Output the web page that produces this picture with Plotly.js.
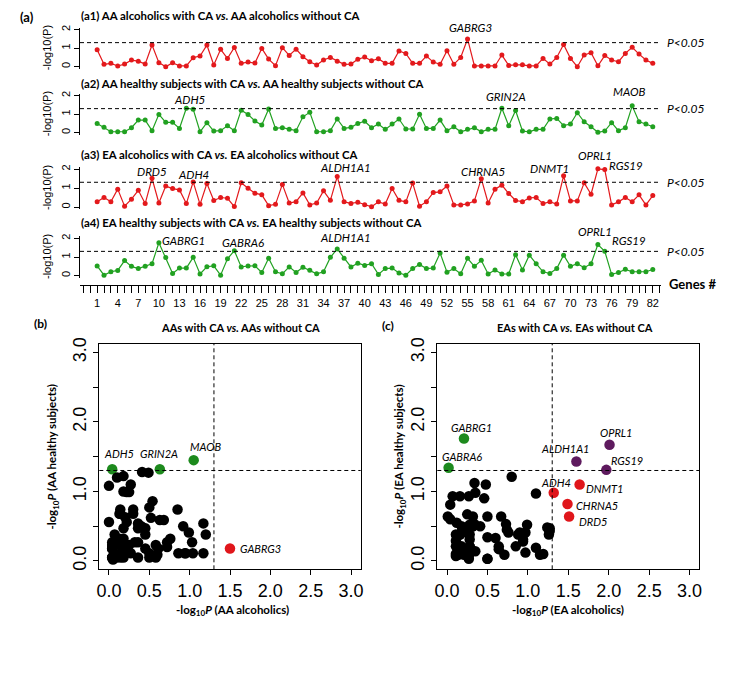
<!DOCTYPE html>
<html>
<head>
<meta charset="utf-8">
<script src="https://cdn.plot.ly/plotly-3.0.1.min.js"></script>
<style>
  html, body { margin: 0; padding: 0; background: #fff; }
  #chart { width: 730px; height: 678px; }
</style>
</head>
<body>
<div id="chart"></div>
<script>
// -log10(P) per gene, genes 1..82
var genes = Array.from({length: 82}, function (_, i) { return i + 1; });

var aaAlc = [0.92,0.13,0.18,0.04,0.14,0.36,0.30,0.14,1.17,0.22,
  0.00,0.22,0.04,0.04,0.49,0.58,1.17,0.09,0.94,0.45,
  1.04,0.18,0.25,0.20,0.99,0.41,0.05,1.03,0.61,0.95,
  0.54,0.27,0.09,0.36,0.50,0.30,0.13,0.14,0.40,0.52,
  0.32,0.43,0.18,0.18,0.85,0.72,0.18,0.18,0.58,0.25,
  0.13,0.86,0.13,0.50,1.50,0.04,0.04,0.04,0.04,0.63,
  0.07,0.10,0.10,0.04,0.04,0.45,0.14,0.50,1.20,0.45,
  0.00,0.63,0.76,0.05,0.60,0.36,0.27,0.72,1.05,0.68,
  0.36,0.18];

var aaHealthy = [0.50,0.29,0.05,0.05,0.05,0.27,0.68,0.68,0.11,0.99,
  0.56,0.56,0.23,1.32,1.27,0.05,0.54,0.09,0.11,0.38,
  0.11,1.22,0.99,0.63,0.41,1.28,0.23,0.27,0.18,0.11,
  0.86,1.10,0.05,0.05,0.11,0.74,0.23,0.29,0.50,0.62,
  0.27,0.47,0.18,0.47,0.74,0.20,0.20,1.00,0.23,0.23,
  0.68,0.11,0.32,0.05,0.18,0.27,0.05,0.18,0.18,1.32,
  0.38,1.20,0.09,0.05,0.18,0.18,0.74,0.77,0.38,0.47,
  1.08,0.59,0.32,0.02,0.09,0.54,0.11,0.27,1.45,0.59,
  0.47,0.32];

var eaAlc = [0.28,0.50,0.28,0.94,0.04,0.41,0.88,0.18,1.51,0.21,
  1.10,0.97,0.90,0.18,1.32,0.14,1.24,0.34,0.50,0.46,
  0.02,1.27,0.99,0.73,0.64,0.07,0.14,1.19,0.21,0.28,
  0.74,0.11,0.21,0.85,0.35,1.60,0.27,0.19,0.25,0.12,
  0.01,0.27,0.16,0.97,0.35,0.27,1.26,0.04,0.28,0.76,
  0.80,1.10,0.11,0.11,0.16,0.32,1.49,0.21,0.94,1.15,
  0.71,0.34,0.28,0.48,0.50,0.18,0.27,0.16,1.64,0.32,
  0.32,1.27,0.67,2.01,1.97,0.11,0.27,0.50,0.28,0.64,
  0.11,0.60];

var eaHealthy = [0.52,0.03,0.21,0.28,0.81,0.50,0.38,0.50,0.64,1.76,
  0.97,0.12,0.41,0.41,0.98,0.09,0.48,0.53,0.03,0.90,
  1.34,0.47,0.52,0.53,0.17,0.93,0.21,0.10,0.47,0.17,
  0.45,0.29,0.10,0.21,0.98,1.43,0.93,0.47,0.67,0.55,
  0.64,0.07,0.38,0.41,0.14,0.03,0.38,0.60,0.38,0.41,
  1.21,0.19,0.38,0.10,0.93,0.50,0.82,0.09,0.31,0.09,
  0.09,1.12,0.31,1.10,0.64,0.21,0.12,0.38,1.10,0.50,
  0.64,0.43,0.64,1.67,1.31,0.07,0.17,0.34,0.21,0.21,
  0.21,0.33];

var panelTitles = [
  '(a1) AA alcoholics with CA <i>vs.</i> AA alcoholics without CA',
  '(a2) AA healthy subjects with CA <i>vs.</i> AA healthy subjects without CA',
  '(a3) EA alcoholics with CA <i>vs.</i> EA alcoholics without CA',
  '(a4) EA healthy subjects with CA <i>vs.</i> EA healthy subjects without CA'
];

var cutoff = -Math.log10(0.05);

var W = 730, H = 678;
function px(x) { return x / W; }
function py(y) { return 1 - y / H; }

var RED = '#e3191c', GREEN = '#21a121';
var DOT_GREEN = '#1d8a1d', DOT_RED = '#e0161b', PURPLE = '#5e1a5e';
var lato = 'Lato, sans-serif';
var DASH = '4px,3px';

// text placed in page pixels
function note(x, y, text, font, extra) {
  return Object.assign({
    xref: 'paper', yref: 'paper', x: px(x), y: py(y), text: text,
    xanchor: 'center', yanchor: 'middle', showarrow: false, font: font
  }, extra || {});
}

// line panels: pixel of the 0 tick and pixels per unit
var panels = [
  {vals: aaAlc, color: RED, zero: 66.7, unit: 18.5, title: 15},
  {vals: aaHealthy, color: GREEN, zero: 132.7, unit: 18.5, title: 83},
  {vals: eaAlc, color: RED, zero: 207, unit: 19, title: 154},
  {vals: eaHealthy, color: GREEN, zero: 275.7, unit: 18.7, title: 222}
];

var data = [];
var layout = {
  width: W, height: H,
  margin: {l: 0, r: 0, t: 0, b: 0},
  paper_bgcolor: '#fff', plot_bgcolor: '#fff',
  showlegend: false,
  font: {family: 'Liberation Sans, Arial, sans-serif', color: '#000'},
  annotations: [], shapes: []
};

layout.xaxis = {
  domain: [px(80), px(661)], range: [-1.5, 83.2],
  anchor: 'free', position: py(285),
  tickmode: 'linear', tick0: 1, dtick: 3,
  ticks: 'outside', ticklen: 7, tickcolor: '#000', tickwidth: 1,
  minor: {dtick: 1, tick0: 1, ticks: 'outside', ticklen: 7, tickcolor: '#000'},
  showline: true, linecolor: '#000', linewidth: 1.3,
  showgrid: false, zeroline: false,
  tickfont: {size: 11, family: 'Liberation Sans, Arial'}
};

panels.forEach(function (p, i) {
  var yn = i === 0 ? 'yaxis' : 'yaxis' + (i + 1);
  var yr = i === 0 ? 'y' : 'y' + (i + 1);
  layout[yn] = {
    domain: [py(p.zero + 0.1 * p.unit), py(p.zero - 2.1 * p.unit)],
    range: [-0.1, 2.1], anchor: 'x',
    tickvals: [0, 1, 2], ticks: 'outside', ticklen: 5, tickcolor: '#000',
    tickangle: -90, showline: true, linecolor: '#000', linewidth: 1,
    showgrid: false, zeroline: false,
    tickfont: {size: 11, family: 'Liberation Sans, Arial'}
  };
  data.push({
    x: genes, y: p.vals, xaxis: 'x', yaxis: yr,
    type: 'scatter', mode: 'lines+markers', cliponaxis: false,
    line: {color: p.color, width: 1.2},
    marker: {color: p.color, size: 5}
  });
  layout.shapes.push({
    type: 'line', xref: 'x domain', yref: yr, x0: 0, x1: 1, y0: cutoff, y1: cutoff,
    line: {color: '#000', width: 1, dash: DASH}
  });
  layout.annotations.push({
    xref: 'paper', yref: yr, x: px(685), y: cutoff, text: '<i>P<0.05</i>',
    xanchor: 'center', yanchor: 'middle',
    showarrow: false, font: {family: lato, size: 12}
  });
  layout.annotations.push(note(79, p.title, '<b>' + panelTitles[i] + '</b>',
    {family: lato, size: 11.4}, {xanchor: 'left'}));
  layout.annotations.push(note(47, p.zero - p.unit, '-log10(P)', {size: 11}, {textangle: -90}));
});

// gene labels on the line panels, page pixels [x, y, text]
var lineLabels = [
  [471, 27.7, 'GABRG3'],
  [190, 99.3, 'ADH5'], [505.7, 96.7, 'GRIN2A'], [629, 91.7, 'MAOB'],
  [152, 171.7, 'DRD5'], [194, 175, 'ADH4'], [345, 167.7, 'ALDH1A1'],
  [483, 171, 'CHRNA5'], [549, 168.3, 'DNMT1'], [595, 155.7, 'OPRL1'],
  [626, 165, 'RGS19'],
  [183, 240, 'GABRG1'], [243, 242.3, 'GABRA6'], [345, 237.7, 'ALDH1A1'],
  [595, 231.7, 'OPRL1'], [629, 240, 'RGS19']
];
lineLabels.forEach(function (l) {
  layout.annotations.push(note(l[0], l[1], '<i>' + l[2] + '</i>', {family: lato, size: 11.5}));
});

layout.annotations.push(note(27, 17, '<b>(a)</b>', {family: lato, size: 13}));
layout.annotations.push(note(692, 284, '<b>Genes #</b>', {family: lato, size: 13}));

// scatter panels
function dotColor(x, y) {
  if (x >= cutoff && y >= cutoff) return PURPLE;
  if (x >= cutoff) return DOT_RED;
  if (y >= cutoff) return DOT_GREEN;
  return '#000';
}

var scatters = [
  {xs: aaAlc, ys: aaHealthy, xa: 'x2', ya: 'y5', left: 99.3, right: 360.7, tag: '(b)', tagX: 40, tagY: 323,
    title: 'AAs with CA <i>vs.</i> AAs without CA', titleX: 240, ytitleX: 53, xtitleX: 232,
    xt: '-log<sub>10</sub><i>P</i> (AA alcoholics)', yt: '-log<sub>10</sub><i>P</i> (AA healthy subjects)'},
  {xs: eaAlc, ys: eaHealthy, xa: 'x3', ya: 'y6', left: 437.3, right: 699.3, tag: '(c)', tagX: 388, tagY: 325,
    title: 'EAs with CA <i>vs.</i> EAs without CA', titleX: 575, ytitleX: 400, xtitleX: 568,
    xt: '-log<sub>10</sub><i>P</i> (EA alcoholics)', yt: '-log<sub>10</sub><i>P</i> (EA healthy subjects)'}
];

var halfTicks = [0, 0.5, 1, 1.5, 2, 2.5, 3];
scatters.forEach(function (s, i) {
  var xn = 'xaxis' + (i + 2), yn = 'yaxis' + (i + 5);
  var common = {
    range: [-0.12, 3.12], tickvals: halfTicks, ticks: 'outside', ticklen: 5,
    tickcolor: '#000', showline: true, mirror: true, linecolor: '#000', linewidth: 1,
    showgrid: false, zeroline: false, tickfont: {size: 18, family: 'Liberation Sans, Arial'}
  };
  layout[xn] = Object.assign({}, common, {
    domain: [px(s.left), px(s.right)], anchor: s.ya,
    ticktext: halfTicks.map(function (v) { return v.toFixed(1); })
  });
  layout[yn] = Object.assign({}, common, {
    domain: [py(569.3), py(344)], anchor: s.xa, tickangle: -90,
    ticktext: halfTicks.map(function (v) { return v % 1 === 0 ? v.toFixed(1) : ''; })
  });
  data.push({
    x: s.xs, y: s.ys, xaxis: s.xa, yaxis: s.ya, type: 'scatter', mode: 'markers',
    cliponaxis: false,
    marker: {size: 10.5, color: s.xs.map(function (v, k) { return dotColor(v, s.ys[k]); })}
  });
  layout.shapes.push({type: 'line', xref: s.xa, yref: s.ya + ' domain', x0: cutoff, x1: cutoff, y0: 0, y1: 1,
    line: {color: '#000', width: 1, dash: DASH}});
  layout.shapes.push({type: 'line', xref: s.xa + ' domain', yref: s.ya, x0: 0, x1: 1, y0: cutoff, y1: cutoff,
    line: {color: '#000', width: 1, dash: DASH}});
  layout.annotations.push(note(s.tagX, s.tagY, '<b>' + s.tag + '</b>', {family: lato, size: 12}));
  layout.annotations.push(note(s.titleX, 328, '<b>' + s.title + '</b>', {family: lato, size: 11}));
  layout.annotations.push(note(s.ytitleX, 456.6, '<b>' + s.yt + '</b>', {family: lato, size: 11.5}, {textangle: -90}));
  layout.annotations.push(note(s.xtitleX, 610, '<b>' + s.xt + '</b>', {family: lato, size: 11.5}));
});

// scatter point labels [panel, x, y, text, anchor]
var dotLabels = [
  [0, 0.13, 1.54, 'ADH5', 'center'], [0, 0.62, 1.54, 'GRIN2A', 'center'],
  [0, 1.2, 1.65, 'MAOB', 'center'], [0, 1.6, 0.18, 'GABRG3', 'left'],
  [1, 0.3, 1.92, 'GABRG1', 'center'], [1, 0.18, 1.5, 'GABRA6', 'center'],
  [1, 1.455, 1.62, 'ALDH1A1', 'center'], [1, 2.085, 1.85, 'OPRL1', 'center'],
  [1, 2.23, 1.45, 'RGS19', 'center'], [1, 1.35, 1.13, 'ADH4', 'center'],
  [1, 1.95, 1.04, 'DNMT1', 'center'], [1, 1.85, 0.8, 'CHRNA5', 'center'],
  [1, 1.8, 0.57, 'DRD5', 'center']
];
dotLabels.forEach(function (l) {
  layout.annotations.push({
    xref: scatters[l[0]].xa, yref: scatters[l[0]].ya, x: l[1], y: l[2],
    xanchor: l[4], yanchor: 'middle',
    text: '<i>' + l[3] + '</i>', showarrow: false, font: {family: lato, size: 11}
  });
});

Plotly.newPlot('chart', data, layout, {staticPlot: true});
</script>
</body>
</html>
